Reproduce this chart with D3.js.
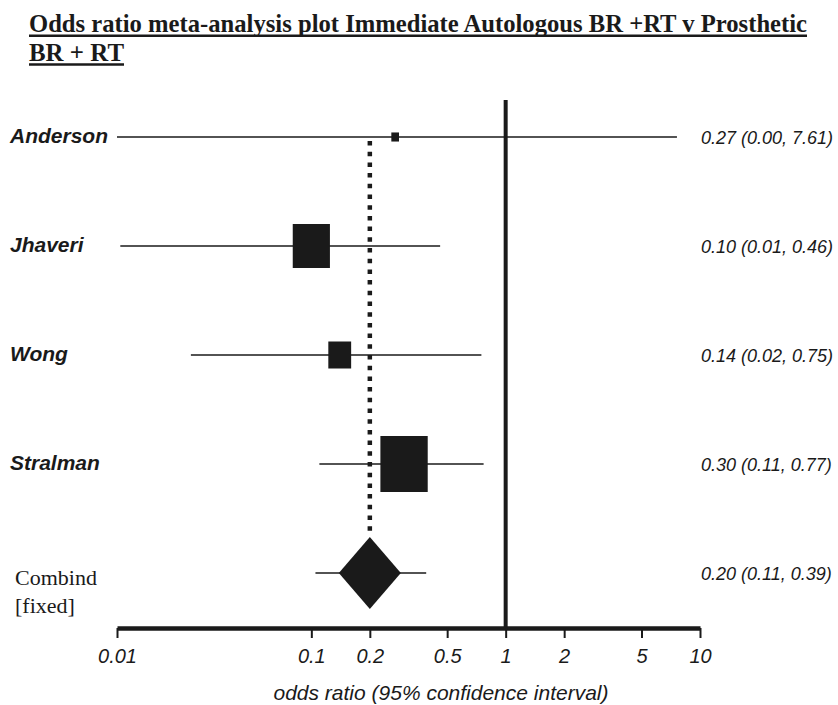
<!DOCTYPE html>
<html>
<head>
<meta charset="utf-8">
<script src="https://cdn.jsdelivr.net/npm/d3@7"></script>
<style>
  body { margin: 0; background: #fff; }
  svg { display: block; }
</style>
</head>
<body>
<div id="chart"></div>
<script>
// forest plot data
const studies = ["Anderson", "Jhaveri", "Wong", "Stralman"];
const oddsRatio = [0.27, 0.10, 0.14, 0.30];
const ciLower = [0.00, 0.0104, 0.024, 0.11];
const ciUpper = [7.61, 0.46, 0.75, 0.77];
const weights = [1.4, 32.9, 12.4, 53.3];   // % weight, drives box size
const ciLabels = ["0.27 (0.00, 7.61)", "0.10 (0.01, 0.46)", "0.14 (0.02, 0.75)", "0.30 (0.11, 0.77)"];

const pooledName = ["Combind", "[fixed]"];
const pooledOR = 0.20;
const pooledLower = 0.105;
const pooledUpper = 0.39;
const pooledLabel = "0.20 (0.11, 0.39)";

const tickValues = [0.01, 0.1, 0.2, 0.5, 1, 2, 5, 10];
const tickLabels = ["0.01", "0.1", "0.2", "0.5", "1", "2", "5", "10"];

const width = 838, height = 705;
const ink = "#1a1a1a";

const svg = d3.select("#chart")
  .append("svg")
  .attr("width", width)
  .attr("height", height);

const x = d3.scaleLog()
  .domain([0.01, 10])
  .range([117, 700])
  .clamp(true);

const y = d3.scalePoint()
  .domain(studies.concat(["pooled"]))
  .range([137, 573]);

const box = d3.scaleSqrt()
  .domain([0, d3.max(weights)])
  .range([0, 56]);

// title, underlined
const title = svg.append("g")
  .style("font-family", "'Liberation Serif', 'Times New Roman', serif")
  .style("font-weight", "bold")
  .style("font-size", "25px")
  .attr("fill", ink);

title.append("text")
  .attr("x", 29).attr("y", 32)
  .attr("textLength", 778).attr("lengthAdjust", "spacingAndGlyphs")
  .text("Odds ratio meta-analysis plot Immediate Autologous BR +RT v Prosthetic");
title.append("text")
  .attr("x", 29).attr("y", 61)
  .attr("textLength", 95).attr("lengthAdjust", "spacingAndGlyphs")
  .text("BR + RT");
title.append("line")
  .attr("x1", 29).attr("x2", 807).attr("y1", 35.8).attr("y2", 35.8)
  .attr("stroke", ink).attr("stroke-width", 2.6);
title.append("line")
  .attr("x1", 29).attr("x2", 124).attr("y1", 64.5).attr("y2", 64.5)
  .attr("stroke", ink).attr("stroke-width", 2.6);

// line of no effect
svg.append("line")
  .attr("x1", x(1)).attr("x2", x(1))
  .attr("y1", 100).attr("y2", 628)
  .attr("stroke", ink).attr("stroke-width", 4);

// dotted line at pooled estimate
svg.append("line")
  .attr("x1", x(pooledOR)).attr("x2", x(pooledOR))
  .attr("y1", y(studies[0]) + 4).attr("y2", y("pooled") - 36)
  .attr("stroke", ink).attr("stroke-width", 4.5)
  .attr("stroke-dasharray", "4.5,6.2");

// study rows
const rows = studies.map((s, i) => ({
  name: s, or: oddsRatio[i], lo: ciLower[i], hi: ciUpper[i], w: weights[i], label: ciLabels[i]
}));

const row = svg.selectAll("g.row")
  .data(rows)
  .enter()
  .append("g")
  .attr("class", "row");

row.append("line")
  .attr("x1", d => x(Math.max(d.lo, 0.01)))
  .attr("x2", d => x(d.hi))
  .attr("y1", d => y(d.name))
  .attr("y2", d => y(d.name))
  .attr("stroke", ink)
  .attr("stroke-width", 1.6);

row.append("rect")
  .attr("width", d => box(d.w) * 0.845)
  .attr("height", d => box(d.w))
  .attr("x", d => x(d.or) - box(d.w) * 0.845 / 2)
  .attr("y", d => y(d.name) - box(d.w) / 2)
  .attr("fill", ink);

row.append("text")
  .attr("x", 10)
  .attr("y", d => y(d.name) + 6)
  .text(d => d.name)
  .attr("fill", ink)
  .style("font-family", "'Liberation Sans', Arial, sans-serif")
  .style("font-weight", "bold")
  .style("font-style", "italic")
  .style("font-size", "21px");

row.append("text")
  .attr("x", 701)
  .attr("y", d => y(d.name) + 7)
  .text(d => d.label)
  .attr("fill", ink)
  .style("font-family", "'Liberation Sans', Arial, sans-serif")
  .style("font-style", "italic")
  .style("font-size", "18px");

// pooled estimate
const py = y("pooled");
svg.append("line")
  .attr("x1", x(pooledLower)).attr("x2", x(pooledUpper))
  .attr("y1", py).attr("y2", py)
  .attr("stroke", ink).attr("stroke-width", 1.6);

const cx = x(pooledOR);
svg.append("path")
  .attr("d", `M${cx},${py - 36}L${cx + 31},${py}L${cx},${py + 36}L${cx - 31},${py}Z`)
  .attr("fill", ink);

svg.append("text")
  .attr("x", 701)
  .attr("y", py + 7)
  .text(pooledLabel)
  .attr("fill", ink)
  .style("font-family", "'Liberation Sans', Arial, sans-serif")
  .style("font-style", "italic")
  .style("font-size", "18px");

svg.append("g")
  .selectAll("text")
  .data(pooledName)
  .enter()
  .append("text")
  .attr("x", 15)
  .attr("y", (d, i) => 585 + i * 28)
  .text(d => d)
  .attr("fill", ink)
  .style("font-family", "'Liberation Serif', 'Times New Roman', serif")
  .style("font-size", "22px");

// x axis
const axis = svg.append("g")
  .attr("transform", "translate(0,628)")
  .call(d3.axisBottom(x)
    .tickValues(tickValues)
    .tickFormat((d, i) => tickLabels[i])
    .tickSize(10)
    .tickSizeOuter(0)
    .tickPadding(11));

axis.select(".domain")
  .attr("stroke", ink)
  .attr("stroke-width", 4.5);
axis.selectAll(".tick line")
  .attr("stroke", ink)
  .attr("stroke-width", 2);
axis.selectAll(".tick text")
  .attr("fill", ink)
  .style("font-family", "'Liberation Sans', Arial, sans-serif")
  .style("font-style", "italic")
  .style("font-size", "20px");

svg.append("text")
  .attr("x", 441)
  .attr("y", 700)
  .attr("text-anchor", "middle")
  .text("odds ratio (95% confidence interval)")
  .attr("fill", ink)
  .style("font-family", "'Liberation Sans', Arial, sans-serif")
  .style("font-style", "italic")
  .style("font-size", "21px");
</script>
</body>
</html>
